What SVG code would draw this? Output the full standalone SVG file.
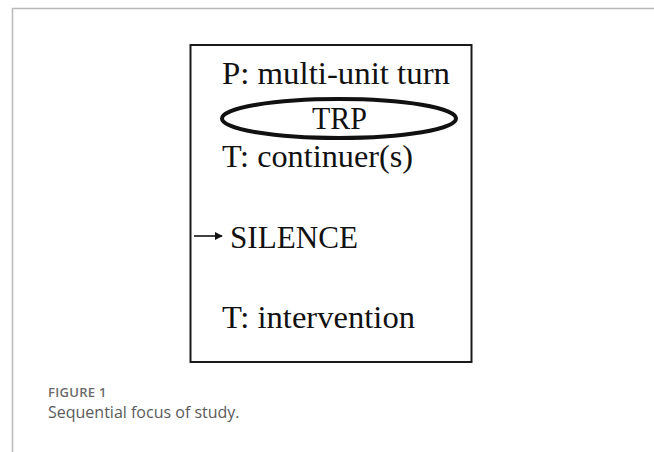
<svg xmlns="http://www.w3.org/2000/svg" width="654" height="452" viewBox="0 0 654 452">
<defs>
<style>
.t{font-family:"Liberation Serif","Times New Roman",serif;font-size:32px;fill:#111}
.frame{stroke:#b8b8b8;stroke-width:1.5;fill:none}
.cap1{font-family:"Open Sans","Noto Sans",sans-serif;font-size:13px;font-weight:600;fill:#6b6b6b;letter-spacing:0.3px}
.cap2{font-family:"Open Sans","Noto Sans",sans-serif;font-size:16px;fill:#5a5a5a}
</style>
<marker id="ah" viewBox="0 0 10 10" refX="9" refY="5" markerWidth="8" markerHeight="8" markerUnits="userSpaceOnUse" orient="auto">
<path d="M0,0 L10,5 L0,10 z" fill="#111"/>
</marker>
</defs>
<rect width="654" height="452" fill="#fff"/>
<path class="frame" d="M12.5,452 V8.5 H654"/>
<g id="box">
<rect x="190.5" y="45" width="281" height="317" fill="none" stroke="#1a1a1a" stroke-width="2"/>
</g>
<g id="p-turn"><text class="t" x="222" y="84" textLength="228" lengthAdjust="spacingAndGlyphs">P: multi-unit turn</text></g>
<g id="trp">
<ellipse cx="339" cy="118.5" rx="117" ry="19.5" fill="none" stroke="#111" stroke-width="4"/>
<text class="t" x="312" y="129" textLength="55" lengthAdjust="spacingAndGlyphs">TRP</text>
</g>
<g id="continuer"><text class="t" x="222" y="167" textLength="191" lengthAdjust="spacingAndGlyphs">T: continuer(s)</text></g>
<g id="silence"><text class="t" x="230" y="248" textLength="128" lengthAdjust="spacingAndGlyphs">SILENCE</text></g>
<g id="intervention"><text class="t" x="222" y="328" textLength="193" lengthAdjust="spacingAndGlyphs">T: intervention</text></g>
<g id="connectors">
<line x1="194" y1="236" x2="222" y2="236" stroke="#111" stroke-width="1.6" marker-end="url(#ah)"/>
</g>
<g id="caption">
<text class="cap1" x="48" y="397">FIGURE 1</text>
<text class="cap2" x="48" y="418">Sequential focus of study.</text>
</g>
</svg>
